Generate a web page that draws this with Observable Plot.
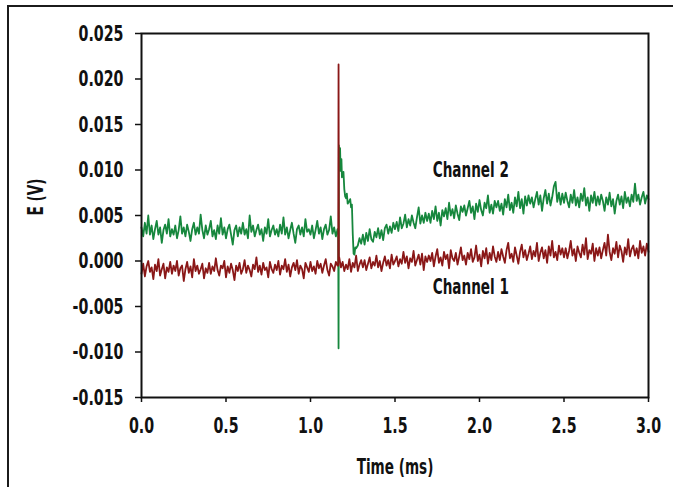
<!DOCTYPE html>
<html><head><meta charset="utf-8">
<script src="https://cdn.jsdelivr.net/npm/d3@7"></script>
<script src="https://cdn.jsdelivr.net/npm/@observablehq/plot@0.6"></script>
<style>
html,body{margin:0;padding:0;background:#fff;}
#wrap{position:relative;width:673px;height:487px;overflow:hidden;background:#fff;}
#border{position:absolute;left:7px;top:5px;width:700px;height:600px;border-top:2px solid #1b1b1b;border-left:2px solid #1b1b1b;}
#chart{position:absolute;left:0;top:0;}
#chart text{font-stretch:condensed;}
</style></head><body>
<div id="wrap"><div id="border"></div><div id="chart"></div></div>
<script>
// Sampling: uniform 0.01 ms step from 0 to 3.00 ms (301 samples). Values in mV.
const timeStep = 0.01;

// Channel 2 (green), mV
const ch2 = [
3.7,2.7,4.2,3.0,5.0,2.9,3.9,2.4,3.5,4.4,2.9,3.7,2.0,3.4,4.0,3.0,4.6,2.7,3.5,2.9,
3.9,2.5,3.4,4.9,3.0,3.7,2.7,4.0,3.2,2.2,3.5,4.2,2.9,3.7,3.0,5.1,3.4,2.5,3.9,2.9,
3.5,4.4,2.7,3.4,2.4,3.9,3.0,4.7,2.9,3.7,2.5,3.5,4.0,2.9,1.8,3.4,3.9,2.7,3.7,3.0,
4.2,2.9,3.5,2.5,5.0,3.2,3.9,2.7,3.4,4.0,2.9,3.5,2.2,3.7,3.0,4.6,2.7,3.4,3.9,2.9,
3.5,2.7,4.0,3.0,4.8,2.9,3.7,2.5,3.4,4.2,3.0,2.0,3.5,3.9,2.9,3.7,2.7,4.6,3.2,3.5,
2.9,3.9,2.5,3.4,4.4,3.0,3.7,2.4,3.5,4.0,2.9,3.4,4.9,3.0,3.7,2.7,3.5,
11.5,10.2,9.5,7.9,6.9,6.3,6.6,5.9,3.0,0.7,1.4,1.7,2.5,1.9,
2.9,1.8,3.1,2.2,3.5,2.4,2.1,3.2,2.6,3.6,2.5,3.4,2.3,3.6,4.0,3.0,3.8,3.1,4.2,3.5,
4.3,3.3,4.8,3.6,4.1,5.1,3.7,4.6,3.9,5.0,4.2,3.6,4.8,5.9,4.1,5.0,4.2,5.3,4.4,5.2,
4.2,5.5,4.6,6.0,4.4,5.3,3.9,5.6,4.9,5.8,4.6,6.4,5.0,5.7,4.7,6.1,5.2,4.5,6.0,5.4,
6.1,5.0,5.8,6.6,5.3,6.0,4.6,6.3,5.4,6.7,5.6,5.0,6.4,5.8,7.2,5.3,6.2,5.2,6.6,5.9,
6.6,5.5,6.3,5.1,6.8,5.9,7.3,5.6,6.4,5.3,7.0,6.0,7.6,5.8,6.8,5.2,7.1,6.1,7.2,6.3,
7.0,5.9,6.8,7.6,6.2,7.2,5.5,6.9,7.8,6.3,7.4,6.1,7.0,8.2,8.7,6.5,7.5,6.2,7.4,6.4,
7.5,6.6,5.9,7.3,6.4,7.8,6.1,7.0,5.9,7.4,6.6,8.0,6.1,7.0,5.5,7.2,6.4,7.6,6.1,7.1,
6.2,7.3,6.6,5.5,7.0,6.2,7.5,6.0,6.8,5.2,6.6,7.3,6.2,7.1,5.8,7.6,6.4,7.0,6.0,7.3,
6.5,8.5,6.6,7.3,6.2,7.0,7.6,6.3,7.2,6.8
];
// Channel 2 detail around the transient (ms, mV)
const ch2SpikeT = [1.164,1.166,1.168,1.172,1.175,1.178,1.183,1.186,1.195,1.205,1.215,1.235,1.245,1.255,1.265];
const ch2SpikeV = [3.4,-9.6,12.7,10.8,12.4,9.9,11.2,9.2,9.8,7.1,7.4,6.8,6.2,0.8,1.5];

// Channel 1 (red), mV
const ch1 = [
-1.4,-0.3,-1.7,-0.6,0.0,-1.2,-0.7,-2.0,-0.4,-1.1,0.2,-1.6,-0.9,-0.3,-1.9,-0.7,-1.2,-0.1,-1.4,-0.5,
-1.1,0.0,-1.6,-0.8,-0.5,-2.2,-0.9,-0.1,-1.3,-0.6,-1.8,0.2,-1.1,-0.5,-1.4,-0.9,-0.3,-1.9,-0.8,-1.3,
-0.2,-1.4,-0.6,-1.1,0.3,-1.0,-1.6,-0.5,-0.8,0.0,-1.8,-0.6,-1.3,-0.3,-1.0,-2.1,-0.5,-1.1,-0.2,-1.4,
-0.9,0.1,-1.3,-0.5,-1.0,-1.7,-0.4,-0.9,0.4,-1.2,-0.5,-1.5,-0.2,-1.0,-0.7,-1.8,-0.1,-0.9,-1.3,-0.4,
-1.0,0.0,-1.5,-0.5,-0.9,0.2,-1.2,-0.4,-1.7,-0.7,-0.2,-1.0,0.1,-1.4,-0.5,-0.9,-1.9,-0.2,-0.7,-1.2,
-0.1,-1.1,-0.6,-1.4,0.0,-0.8,-0.3,-1.3,-0.5,0.2,-1.0,-1.6,-0.3,-0.6,-1.1,-0.1,-0.5,
0.4,-0.7,-0.1,-1.1,-0.4,-0.9,0.2,-1.2,-0.2,-0.7,0.6,-1.1,-0.4,0.1,
-0.7,0.1,-1.0,-0.3,0.4,-0.8,-0.1,-0.5,0.6,-0.7,0.0,-1.1,-0.2,0.5,-0.5,0.1,-0.8,0.7,-0.4,0.0,
0.5,-0.6,0.2,-0.3,1.0,-0.2,0.5,-0.8,0.3,-0.1,1.1,-0.5,0.1,0.7,-0.4,0.8,-1.0,0.5,-0.1,0.6,
0.0,0.9,-0.6,0.5,1.3,-0.2,0.4,-0.5,1.0,0.2,0.7,-0.8,1.2,0.3,0.0,0.9,-0.4,0.5,1.5,0.1,
0.6,-0.4,0.9,0.2,1.3,-0.1,0.4,1.7,0.0,0.7,-0.6,1.1,0.3,1.4,-0.3,0.9,0.1,1.6,0.5,-0.1,
1.0,0.1,1.3,0.5,-0.2,1.2,2.0,0.3,0.8,-0.1,1.5,0.6,-0.3,1.0,1.8,0.4,1.2,0.1,0.8,1.6,
0.2,1.1,0.5,2.0,0.0,0.9,1.5,0.3,1.2,-0.2,1.6,0.6,2.2,0.4,1.0,0.1,1.7,0.7,1.4,0.4,
1.4,0.3,1.1,2.2,0.6,1.3,0.0,1.6,0.9,0.4,1.8,0.7,2.5,0.2,1.2,0.8,1.9,0.0,1.4,0.6,
1.5,0.3,1.2,2.0,0.6,2.9,1.0,0.1,1.4,0.8,2.1,0.4,1.7,1.1,-0.1,1.5,0.7,2.4,0.5,1.3,
1.7,0.6,1.4,0.3,2.2,0.9,1.6,0.6,1.9,1.0
];
// Channel 1 detail around the transient (ms, mV)
const ch1SpikeT = [1.164,1.166,1.168];
const ch1SpikeV = [-0.5,21.6,0.2];

// Axis ticks (x in ms, y in V)
const xTicks = [0, 0.5, 1.0, 1.5, 2.0, 2.5, 3.0];
const yTicks = [-0.015, -0.010, -0.005, 0, 0.005, 0.010, 0.015, 0.020, 0.025];

// Series labels (anchored in data coordinates: ms, V)
const seriesNames = ["Channel 2", "Channel 1"];
const labelT = [1.723, 1.723];
const labelV = [0.0092, -0.0036];

const GREEN = "#16873d";
const RED = "#8a1717";
const FONT = "'DejaVu Sans Condensed','DejaVu Sans','Liberation Sans Narrow',sans-serif";

function rows(vals, spikeT, spikeV) {
  const r = vals.map((v, i) => ({t: +(i * timeStep).toFixed(4), v: v / 1000}));
  spikeT.forEach((t, i) => r.push({t, v: spikeV[i] / 1000}));
  return r.sort((a, b) => a.t - b.t);
}
const ch2Rows = rows(ch2, ch2SpikeT, ch2SpikeV);
const ch1Rows = rows(ch1, ch1SpikeT, ch1SpikeV);
const labels = seriesNames.map((name, i) => ({name, t: labelT[i], v: labelV[i]}));

const chart = Plot.plot({
  width: 673, height: 487,
  marginLeft: 141, marginRight: 25, marginTop: 33, marginBottom: 90,
  style: {fontFamily: FONT, fontWeight: "bold", fontSize: "22px", background: "transparent", color: "#111", overflow: "visible"},
  x: {domain: [0, 3]},
  y: {domain: [-0.015, 0.025]},
  marks: [
    Plot.line(ch2Rows, {x: "t", y: "v", stroke: GREEN, strokeWidth: 1.8}),
    Plot.line(ch1Rows, {x: "t", y: "v", stroke: RED, strokeWidth: 1.8}),
    Plot.frame({stroke: "#111", strokeWidth: 2}),
    Plot.axisX({ticks: xTicks, tickFormat: d => d.toFixed(1), tickSize: 5, tickPadding: 15, strokeWidth: 1.5, label: null, fontSize: 22}),
    Plot.axisY({ticks: yTicks, tickFormat: d => d.toFixed(3), tickSize: 6, tickPadding: 12, strokeWidth: 1.5, label: null, fontSize: 22}),
    Plot.text(labels, {x: "t", y: "v", text: "name", textAnchor: "start", lineAnchor: "bottom", fontSize: 21, fill: "#111"}),
    Plot.text(["Time (ms)"], {frameAnchor: "bottom", dy: 76, lineAnchor: "bottom", fontSize: 21, fill: "#111"}),
    Plot.text(["E (V)"], {frameAnchor: "left", dx: -99, rotate: -90, lineAnchor: "bottom", fontSize: 21, fill: "#111"})
  ]
});
document.getElementById("chart").appendChild(chart);

// Narrow the lettering to match the reference's condensed face
const texts = Array.from(chart.querySelectorAll("text"));
const probe = texts.find(el => el.textContent === "0.025");
const factor = probe ? Math.min(1, 45 / probe.getComputedTextLength()) : 1;
if (factor < 0.98) {
  texts.forEach(el => {
    const w = el.getComputedTextLength();
    if (w > 0) {
      el.setAttribute("textLength", (w * factor).toFixed(2));
      el.setAttribute("lengthAdjust", "spacingAndGlyphs");
    }
  });
}
</script>
</body></html>
